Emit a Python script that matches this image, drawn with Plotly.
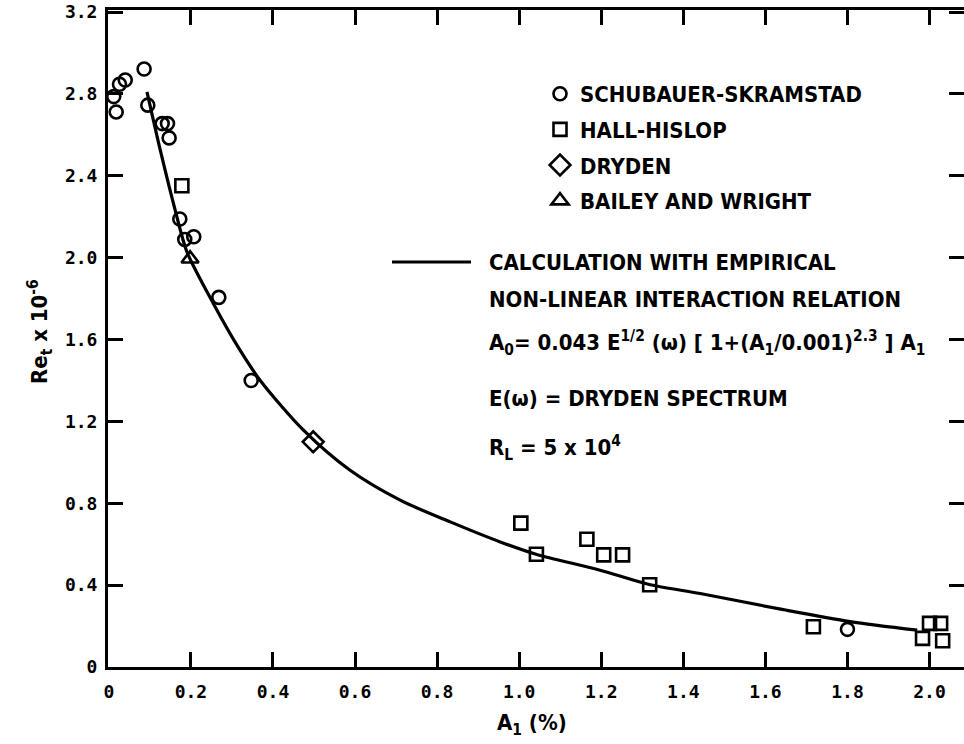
import plotly.graph_objects as go

# ---------------- data ----------------
ss_x = [0.012, 0.018, 0.026, 0.040, 0.086, 0.095, 0.130, 0.143, 0.147, 0.173, 0.185, 0.207, 0.268, 0.347, 1.800]
ss_y = [2.787, 2.712, 2.847, 2.868, 2.922, 2.745, 2.655, 2.655, 2.585, 2.189, 2.089, 2.102, 1.806, 1.400, 0.184]

hh_x = [0.178, 1.004, 1.042, 1.165, 1.206, 1.252, 1.318, 1.717, 1.983, 2.000, 2.027, 2.032]
hh_y = [2.351, 0.703, 0.551, 0.624, 0.548, 0.548, 0.402, 0.197, 0.140, 0.213, 0.213, 0.128]

dr_x = [0.498]
dr_y = [1.100]

bw_x = [0.198]
bw_y = [1.995]

calc_x = [0.093, 0.126, 0.162, 0.190, 0.255, 0.316, 0.369, 0.475, 0.588, 0.710, 0.832,
          0.954, 1.041, 1.197, 1.317, 1.441, 1.644, 1.806, 1.970]
calc_y = [2.81, 2.52, 2.23, 2.03, 1.775, 1.56, 1.40, 1.156, 0.961, 0.815, 0.709,
          0.611, 0.551, 0.473, 0.403, 0.359, 0.280, 0.222, 0.180]

x_tickvals = [0, 0.2, 0.4, 0.6, 0.8, 1.0, 1.2, 1.4, 1.6, 1.8, 2.0]
x_ticktext = ["0", "0.2", "0.4", "0.6", "0.8", "1.0", "1.2", "1.4", "1.6", "1.8", "2.0"]
y_tickvals = [0, 0.4, 0.8, 1.2, 1.6, 2.0, 2.4, 2.8, 3.2]
y_ticktext = ["0", "0.4", "0.8", "1.2", "1.6", "2.0", "2.4", "2.8", "3.2"]

series_names = ["SCHUBAUER-SKRAMSTAD", "HALL-HISLOP", "DRYDEN", "BAILEY AND WRIGHT"]
calc_lines = [
    "CALCULATION WITH EMPIRICAL",
    "NON-LINEAR INTERACTION RELATION",
    "A<sub>0</sub>= 0.043 E<sup>1/2</sup> (ω) [ 1+(A<sub>1</sub>/0.001)<sup>2.3</sup> ] A<sub>1</sub>",
    "E(ω) = DRYDEN SPECTRUM",
    "R<sub>L</sub> = 5 x 10<sup>4</sup>",
]

# ---------------- styling ----------------
W, H = 964, 744
ML, MR, MT, MB = 108, 0, 10, 77
NARROW = "Liberation Sans Narrow, DejaVu Sans Condensed, Arial Narrow, sans-serif"
MONO = "DejaVu Sans Mono, Liberation Mono, monospace"
BLACK = "#000000"
YRANGE = [0, 3.21]


def px_x(p):
    return (p - ML) / (W - ML - MR)


def px_y(p):
    return (H - MB - p) / (H - MB - MT)


fig = go.Figure()

fig.add_trace(go.Scatter(
    x=calc_x, y=calc_y, mode="lines", showlegend=False,
    line=dict(color=BLACK, width=3.2, shape="spline", smoothing=0.8),
    hoverinfo="skip"))

marker_specs = [
    (ss_x, ss_y, "circle-open", 13),
    (hh_x, hh_y, "square-open", 13),
    (dr_x, dr_y, "diamond-open", 16),
    (bw_x, bw_y, "triangle-up-open", 15),
]
for (xs, ys, sym, size), name in zip(marker_specs, series_names):
    fig.add_trace(go.Scatter(
        x=xs, y=ys, mode="markers", name=name, legendgroup=name,
        marker=dict(symbol=sym, size=size, color=BLACK,
                    line=dict(color=BLACK, width=2.6))))

tick_common = dict(
    ticks="inside", ticklen=15, tickwidth=2.5, tickcolor=BLACK,
    showgrid=False, zeroline=False,
    tickfont=dict(family=MONO, size=18, color=BLACK, weight="bold"),
)

fig.update_layout(
    width=W, height=H,
    margin=dict(l=ML, r=MR, t=MT, b=MB),
    paper_bgcolor="white", plot_bgcolor="white",
    xaxis=dict(range=[-0.002, 2.084], tickvals=x_tickvals, ticktext=x_ticktext,
               showline=True, linecolor=BLACK, linewidth=3, mirror="ticks",
               ticklabelstandoff=6, **tick_common),
    yaxis=dict(range=YRANGE, tickvals=y_tickvals, ticktext=y_ticktext,
               showline=True, linecolor=BLACK, linewidth=3, mirror=False,
               ticklabelstandoff=4, **tick_common),
    yaxis2=dict(range=YRANGE, tickvals=y_tickvals, overlaying="y", side="right",
                showline=False, showticklabels=False, **tick_common),
    showlegend=True,
    legend=dict(x=px_x(540), y=px_y(73), xanchor="left", yanchor="top",
                bgcolor="rgba(0,0,0,0)", tracegroupgap=4,
                font=dict(family=NARROW, size=22, color=BLACK, weight="bold")),
)

# invisible carrier so the right-hand tick axis is drawn
fig.add_trace(go.Scatter(x=dr_x, y=dr_y, yaxis="y2", mode="markers", showlegend=False,
                         marker=dict(opacity=0), hoverinfo="skip"))

# key line for the calculation curve
row_y = [262, 299, 343, 398, 448]
fig.add_shape(type="line", xref="paper", yref="paper",
              x0=px_x(392), x1=px_x(471), y0=px_y(row_y[0]), y1=px_y(row_y[0]),
              line=dict(color=BLACK, width=3.2))

for txt, ry in zip(calc_lines, row_y):
    fig.add_annotation(text=txt, xref="paper", yref="paper",
                       x=px_x(487), y=px_y(ry), xanchor="left", yanchor="middle",
                       showarrow=False,
                       font=dict(family=NARROW, size=22, color=BLACK, weight="bold"))

# axis titles
fig.add_annotation(text="Re<sub>t</sub> x 10<sup>-6</sup>", xref="paper", yref="paper",
                   x=px_x(40), y=px_y(332), textangle=-90, showarrow=False,
                   xanchor="center", yanchor="middle",
                   font=dict(family=NARROW, size=22, color=BLACK, weight="bold"))
fig.add_annotation(text="A<sub>1</sub> (%)", xref="paper", yref="paper",
                   x=px_x(532), y=px_y(724), showarrow=False,
                   xanchor="center", yanchor="middle",
                   font=dict(family=NARROW, size=22, color=BLACK, weight="bold"))

fig.write_html("out.html")
